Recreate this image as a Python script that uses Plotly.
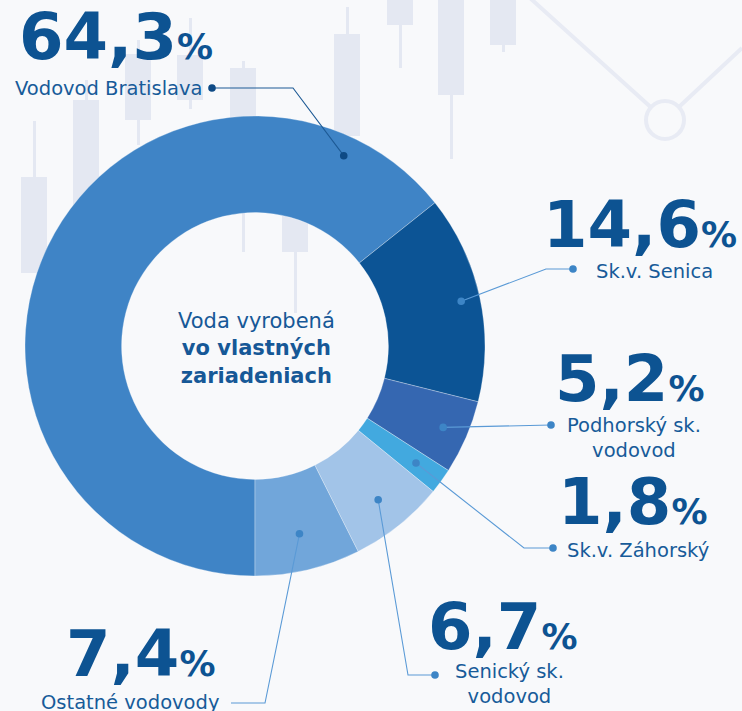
import math
import plotly.graph_objects as go

# ---------------- data ----------------
categories = ["Vodovod Bratislava", "Sk.v. Senica", "Podhorský sk. vodovod",
              "Sk.v. Záhorský", "Senický sk. vodovod", "Ostatné vodovody"]
values = [64.3, 14.6, 5.2, 1.8, 6.7, 7.4]
label_texts = ["Vodovod Bratislava", "Sk.v. Senica", "Podhorský sk.<br>vodovod",
               "Sk.v. Záhorský", "Senický sk.<br>vodovod", "Ostatné vodovody"]
center_lines = ["Voda vyrobená", "vo vlastných", "zariadeniach"]

# faint background candles (decorative)
bg_x = [34, 86, 138, 190, 243, 295, 347, 400, 451, 503]
bg_body_top = [177, 100, 54, 55, 68, 150, 34, 0, 0, 0]
bg_body_bot = [273, 300, 120, 100, 200, 252, 136, 25, 95, 45]
bg_wick_top = [121, 80, 40, 18, 61, 130, 7, 0, 0, 0]
bg_wick_bot = [273, 320, 145, 109, 252, 313, 150, 68, 159, 52]
bg_line_x = [530, 665, 742]
bg_line_y = [-2, 120, 48]

# ---------------- style ----------------
W, H = 742, 711
colors = ["#3F84C6", "#0C5495", "#3567B1", "#42A9DF", "#A2C4E8", "#71A6DA"]
NUM_C = "#0D5392"
LAB_C = "#175B99"
BG = "#F8F9FB"
CANDLE = "#E4E8F2"
FONT = "DejaVu Sans"

cx, cy, R_out = 255, 346, 230
hole = 0.58

# label placement (pixels)
num_pos = [(17, 37), (541, 225), (553, 379), (556, 502), (426, 627), (64, 654)]
lab_pos = [(205, 88, "right"), (594, 271, "left"), (634, 438, "center"),
           (565, 550, "left"), (509, 684, "center"), (39, 702, "left")]
# leader routes: elbow, end point
anchor_r = [210, 211, 205, 199, 197, 193]
anchor_angle_override = [25, None, None, None, None, None]
routes = [
    [(293, 88), (212, 88)],
    [(546, 269), (573, 269)],
    [(551, 425)],
    [(524, 548), (553, 548)],
    [(408, 675), (435, 675)],
    [(265, 703), (231, 703)],
]
end_dot = [True, True, True, True, True, False]

fig = go.Figure()

# background decoration on hidden cartesian axes (pixel units)
fig.add_trace(go.Bar(x=bg_x, base=bg_wick_top,
                     y=[b - t for t, b in zip(bg_wick_top, bg_wick_bot)],
                     width=3, marker=dict(color=CANDLE, line=dict(width=0)),
                     hoverinfo="skip", showlegend=False))
fig.add_trace(go.Bar(x=bg_x, base=bg_body_top,
                     y=[b - t for t, b in zip(bg_body_top, bg_body_bot)],
                     width=26, marker=dict(color=CANDLE, line=dict(width=0)),
                     hoverinfo="skip", showlegend=False))
fig.add_trace(go.Scatter(x=bg_line_x, y=bg_line_y, mode="lines",
                         line=dict(color="#E8EBF4", width=4),
                         hoverinfo="skip", showlegend=False))
fig.add_trace(go.Scatter(x=[bg_line_x[1]], y=[bg_line_y[1]], mode="markers",
                         marker=dict(size=38, color=BG, line=dict(color="#E8EBF4", width=4)),
                         hoverinfo="skip", showlegend=False))

# donut
fig.add_trace(go.Pie(
    labels=categories, values=values, sort=False, direction="clockwise",
    rotation=180, hole=hole, textinfo="none", hoverinfo="label+percent",
    marker=dict(colors=colors, line=dict(color="rgba(255,255,255,0.5)", width=0.6)),
    domain=dict(x=[(cx - R_out) / W, (cx + R_out) / W],
                y=[1 - (cy + R_out) / H, 1 - (cy - R_out) / H]),
    showlegend=False,
))

# leader lines and dots computed from slice angles
total = sum(values)
start = 180.0
shapes = []
annotations = []
for i, v in enumerate(values):
    span = v / total * 360
    mid = start + span / 2
    start += span
    ang = anchor_angle_override[i] if anchor_angle_override[i] is not None else mid
    a = math.radians(ang)
    px = cx + anchor_r[i] * math.sin(a)
    py = cy - anchor_r[i] * math.cos(a)
    pts = [(px, py)] + routes[i]
    dark = i == 0
    lc = "#1D5A95" if dark else "#5A9AD6"
    dc = "#0E4A85" if dark else "#3D85C6"
    path = "M " + " L ".join(f"{x:.1f},{y:.1f}" for x, y in pts)
    shapes.append(dict(type="path", path=path, xref="x", yref="y",
                       line=dict(color=lc, width=1.1), layer="above"))
    rr = 3.8
    shapes.append(dict(type="circle", xref="x", yref="y", x0=px - rr, x1=px + rr,
                       y0=py - rr, y1=py + rr, fillcolor=dc, line=dict(width=0), layer="above"))
    if end_dot[i]:
        ex, ey = routes[i][-1]
        shapes.append(dict(type="circle", xref="x", yref="y", x0=ex - rr, x1=ex + rr,
                           y0=ey - rr, y1=ey + rr, fillcolor=dc, line=dict(width=0), layer="above"))
    # number
    txt = f"{v:.1f}".replace(".", ",")
    nx, ny = num_pos[i]
    annotations.append(dict(
        x=nx, y=ny, xref="x", yref="y", xanchor="left", yanchor="middle",
        text=f"<b>{txt}<span style='font-size:36px'>%</span></b>",
        showarrow=False, font=dict(family=FONT, size=64, color=NUM_C)))
    lx, ly, al = lab_pos[i]
    annotations.append(dict(
        x=lx, y=ly, xref="x", yref="y", xanchor=al, yanchor="middle", align="center",
        text=label_texts[i], showarrow=False,
        font=dict(family=FONT, size=19.5, color=LAB_C)))

annotations.append(dict(
    x=cx + 1, y=cy + 2, xref="x", yref="y", xanchor="center", yanchor="middle",
    text=f"{center_lines[0]}<br><b>{center_lines[1]}</b><br><b>{center_lines[2]}</b>",
    showarrow=False, align="center",
    font=dict(family=FONT, size=21, color="#165897")))

fig.update_layout(
    width=W, height=H, margin=dict(l=0, r=0, t=0, b=0),
    paper_bgcolor=BG, plot_bgcolor="rgba(0,0,0,0)",
    barmode="overlay", bargap=0,
    xaxis=dict(range=[0, W], visible=False, fixedrange=True, domain=[0, 1]),
    yaxis=dict(range=[H, 0], visible=False, fixedrange=True, domain=[0, 1]),
    shapes=shapes, annotations=annotations, showlegend=False,
)

fig.write_html("out.html", config={"displayModeBar": False},
               post_script="document.body.style.margin='0px';")
